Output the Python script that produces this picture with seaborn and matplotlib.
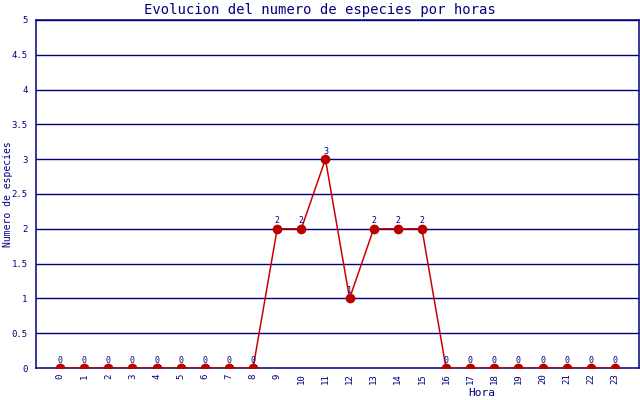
import pandas as pd
import seaborn as sns
import matplotlib
matplotlib.use("Agg")
import matplotlib.pyplot as plt

# data
horas = list(range(24))
especies = [0, 0, 0, 0, 0, 0, 0, 0, 0, 2, 2, 3, 1, 2, 2, 2, 0, 0, 0, 0, 0, 0, 0, 0]

df = pd.DataFrame({"Hora": horas, "Especies": especies})

navy = "#000080"
red = "#cc0000"

sns.set_style("white")
plt.rcParams["font.family"] = ["DejaVu Sans Mono"]

fig = plt.figure(figsize=(6.4, 4.0), dpi=100)
ax = fig.add_axes([36 / 640, 32 / 400, 603 / 640, 348 / 400])

# horizontal grid
for y in [0.5 * i for i in range(1, 11)]:
    ax.axhline(y, color=navy, lw=1.0, zorder=1)

sns.lineplot(data=df, x="Hora", y="Especies", ax=ax, color=red, lw=1.1,
             marker="o", markersize=7, markeredgewidth=0, markerfacecolor="#bb0000",
             zorder=3)

for h, v in zip(horas, especies):
    ax.text(h, v + 0.05, str(v), ha="center", va="bottom", fontsize=6, color=navy, zorder=4)

ax.set_xlim(-1, 24)
ax.set_ylim(0, 5)
ax.set_xticks(horas)
ax.set_xticklabels([str(h) for h in horas], rotation=90, fontsize=6.5, color=navy)
ax.set_yticks([0.5 * i for i in range(11)])
ax.set_yticklabels(["0", "0.5", "1", "1.5", "2", "2.5", "3", "3.5", "4", "4.5", "5"],
                   fontsize=6.5, color=navy)
ax.tick_params(axis="x", direction="in", length=2, color=navy, pad=4)
ax.tick_params(axis="y", length=0, pad=6)

for s in ax.spines.values():
    s.set_color(navy)
    s.set_linewidth(1.1)

ax.set_xlabel("")
ax.set_ylabel("")
fig.text(8 / 640, 1 - 194 / 400, "Numero de especies", rotation=90,
         ha="center", va="center", fontsize=7, color=navy)
fig.text(482 / 640, 1 - 393 / 400, "Hora", ha="center", va="center", fontsize=8, color=navy)
fig.text(0.5, 1 - 10 / 400, "Evolucion del numero de especies por horas",
         ha="center", va="center", fontsize=10, color=navy)

fig.savefig("out.png", dpi=100)
